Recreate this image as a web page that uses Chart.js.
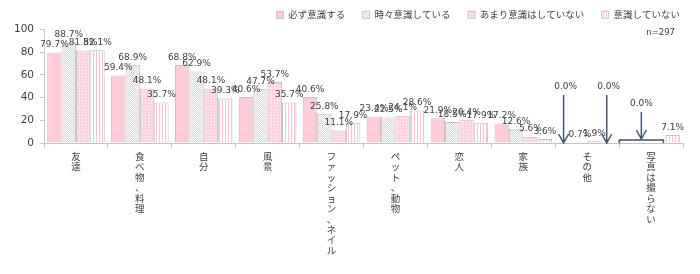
<!DOCTYPE html>
<html>
<head>
<meta charset="utf-8">
<script src="https://cdn.jsdelivr.net/npm/chart.js@4.4.1/dist/chart.umd.min.js"></script>
<style>
  html, body { margin: 0; padding: 0; background: #fff; }
</style>
</head>
<body>
<canvas id="myChart" width="700" height="274"></canvas>
<script>
// data
var categories = ['友達', '食べ物、料理', '自分', '風景', 'ファッション、ネイル', 'ペット、動物', '恋人', '家族', 'その他', '写真は撮らない'];
var seriesNames = ['必ず意識する', '時々意識している', 'あまり意識はしていない', '意識していない'];
var always    = [79.7, 59.4, 68.8, 40.6, 40.6, 23.4, 21.9, 17.2, 0.0, 0.0];
var sometimes = [88.7, 68.9, 62.9, 47.7, 25.8, 22.5, 18.5, 12.6, 0.7, 0.0];
var rarely    = [81.5, 48.1, 48.1, 53.7, 11.1, 24.1, 20.4, 5.6, 1.9, 0.0];
var never     = [82.1, 35.7, 39.3, 35.7, 17.9, 28.6, 17.9, 3.6, 0.0, 7.1];
var yTicks = [0, 20, 40, 60, 80, 100];
var sampleNote = 'n=297';

var TEXT = '#404040';
var EDGE = '#c4c4c4';
var ARROW = '#44546a';
var NUM_FONT = '"DejaVu Sans", Verdana, sans-serif';
var JP_FONT = '"Noto Sans CJK JP", sans-serif';

function makePattern(w, h, bg, fg, pixels) {
  var c = document.createElement('canvas');
  c.width = w; c.height = h;
  var g = c.getContext('2d');
  g.fillStyle = bg;
  g.fillRect(0, 0, w, h);
  g.fillStyle = fg;
  pixels.forEach(function (p) { g.fillRect(p[0], p[1], 1, 1); });
  return g.createPattern(c, 'repeat');
}

var fills = [
  '#ffccda',
  makePattern(4, 4, '#ffffff', '#ffc8d8', [[0, 3], [1, 2], [2, 1], [3, 0], [0, 1], [1, 0], [2, 3], [3, 2]]),
  makePattern(3, 3, '#ffd4e0', '#ffffff', [[1, 1]]),
  makePattern(3, 1, '#ffffff', '#ffc2d3', [[0, 0]])
];

var seriesValues = [always, sometimes, rarely, never];

// value labels above the bars
var valueLabels = {
  id: 'valueLabels',
  afterDatasetsDraw: function (chart) {
    var ctx = chart.ctx;
    ctx.save();
    ctx.font = '9px ' + NUM_FONT;
    ctx.fillStyle = TEXT;
    ctx.textAlign = 'center';
    ctx.textBaseline = 'bottom';
    chart.data.datasets.forEach(function (ds, di) {
      chart.getDatasetMeta(di).data.forEach(function (bar, i) {
        var v = ds.data[i];
        if (v === 0) return;
        ctx.fillText(v.toFixed(1) + '%', bar.x, bar.y - 3);
      });
    });
    ctx.restore();
  }
};

function drawArrow(ctx, x, y1, y2) {
  ctx.beginPath();
  ctx.moveTo(x, y1);
  ctx.lineTo(x, y2);
  ctx.moveTo(x - 5, y2 - 9);
  ctx.lineTo(x, y2);
  ctx.lineTo(x + 5, y2 - 9);
  ctx.stroke();
}

// arrows / bracket pointing at the 0.0% bars
var zeroMarks = {
  id: 'zeroMarks',
  afterDatasetsDraw: function (chart) {
    var ctx = chart.ctx;
    var axisY = chart.scales.y.getPixelForValue(0);
    ctx.save();
    ctx.strokeStyle = ARROW;
    ctx.lineWidth = 1.5;
    ctx.font = '9px ' + NUM_FONT;
    ctx.fillStyle = TEXT;
    ctx.textAlign = 'center';
    ctx.textBaseline = 'middle';
    categories.forEach(function (c, i) {
      var zeros = [];
      seriesValues.forEach(function (s, di) { if (s[i] === 0) zeros.push(di); });
      if (!zeros.length) return;
      if (zeros.length >= 3) {
        var first = chart.getDatasetMeta(zeros[0]).data[i];
        var last = chart.getDatasetMeta(zeros[zeros.length - 1]).data[i];
        var l = first.x - first.width / 2 - 3;
        var r = last.x + last.width / 2 - 2;
        var by = axisY - 3;
        ctx.beginPath();
        ctx.moveTo(l, axisY);
        ctx.lineTo(l, by);
        ctx.lineTo(r, by);
        ctx.lineTo(r, axisY);
        ctx.stroke();
        var cx = (l + r) / 2;
        drawArrow(ctx, cx, by - 28, by - 1);
        ctx.fillText('0.0%', cx, by - 36);
      } else {
        zeros.forEach(function (di) {
          var bar = chart.getDatasetMeta(di).data[i];
          drawArrow(ctx, bar.x - 2, axisY - 48, axisY);
          ctx.fillText('0.0%', bar.x, axisY - 56);
        });
      }
    });
    ctx.restore();
  }
};

var noteText = {
  id: 'noteText',
  afterDraw: function (chart) {
    var ctx = chart.ctx;
    ctx.save();
    ctx.font = '8.5px ' + NUM_FONT;
    ctx.fillStyle = TEXT;
    ctx.textAlign = 'right';
    ctx.textBaseline = 'middle';
    ctx.fillText(sampleNote, chart.chartArea.right - 8, chart.chartArea.top + 3);
    ctx.restore();
  }
};

new Chart('myChart', {
  type: 'bar',
  data: {
    labels: categories,
    datasets: seriesValues.map(function (vals, k) {
      return {
        label: seriesNames[k],
        data: vals,
        backgroundColor: fills[k],
        borderColor: EDGE,
        borderWidth: 1,
        categoryPercentage: 0.9,
        barPercentage: 1.0
      };
    })
  },
  options: {
    responsive: false,
    animation: false,
    layout: { padding: { top: 2, right: 12, left: 0, bottom: 0 } },
    plugins: {
      tooltip: { enabled: false },
      legend: {
        position: 'top',
        align: 'end',
        labels: {
          boxWidth: 7,
          boxHeight: 7,
          padding: 8,
          color: TEXT,
          font: { family: JP_FONT, size: 9.5 },
          generateLabels: function (chart) {
            var items = Chart.defaults.plugins.legend.labels.generateLabels(chart);
            items.forEach(function (it, i) {
              if (i < items.length - 1) it.text = it.text + '　';
            });
            return items;
          }
        }
      }
    },
    scales: {
      x: {
        grid: { display: true, drawOnChartArea: false, drawTicks: true, tickLength: 5, color: EDGE },
        border: { display: true, color: EDGE },
        ticks: {
          color: TEXT,
          padding: 3,
          autoSkip: false,
          maxRotation: 0,
          minRotation: 0,
          font: { family: JP_FONT, size: 9.5, lineHeight: 1.1 },
          callback: function (v, i) { return Array.from(categories[i]); }
        },
        afterFit: function (scale) { scale.height = 131; }
      },
      y: {
        min: 0,
        max: 100,
        afterBuildTicks: function (scale) {
          scale.ticks = yTicks.map(function (v) { return { value: v }; });
        },
        grid: { display: true, drawOnChartArea: false, drawTicks: true, tickLength: 4, color: EDGE },
        border: { display: true, color: EDGE },
        ticks: {
          color: TEXT,
          padding: 6,
          font: { family: NUM_FONT, size: 10.5 }
        },
        afterFit: function (scale) { scale.width = 44; }
      },
      // empty strip on the right so the plot ends a little before the legend does
      side: {
        position: 'right',
        display: true,
        grid: { display: false },
        border: { display: false },
        ticks: { display: false },
        afterFit: function (scale) { scale.width = 5; }
      }
    }
  },
  plugins: [valueLabels, zeroMarks, noteText]
});
</script>
</body>
</html>
